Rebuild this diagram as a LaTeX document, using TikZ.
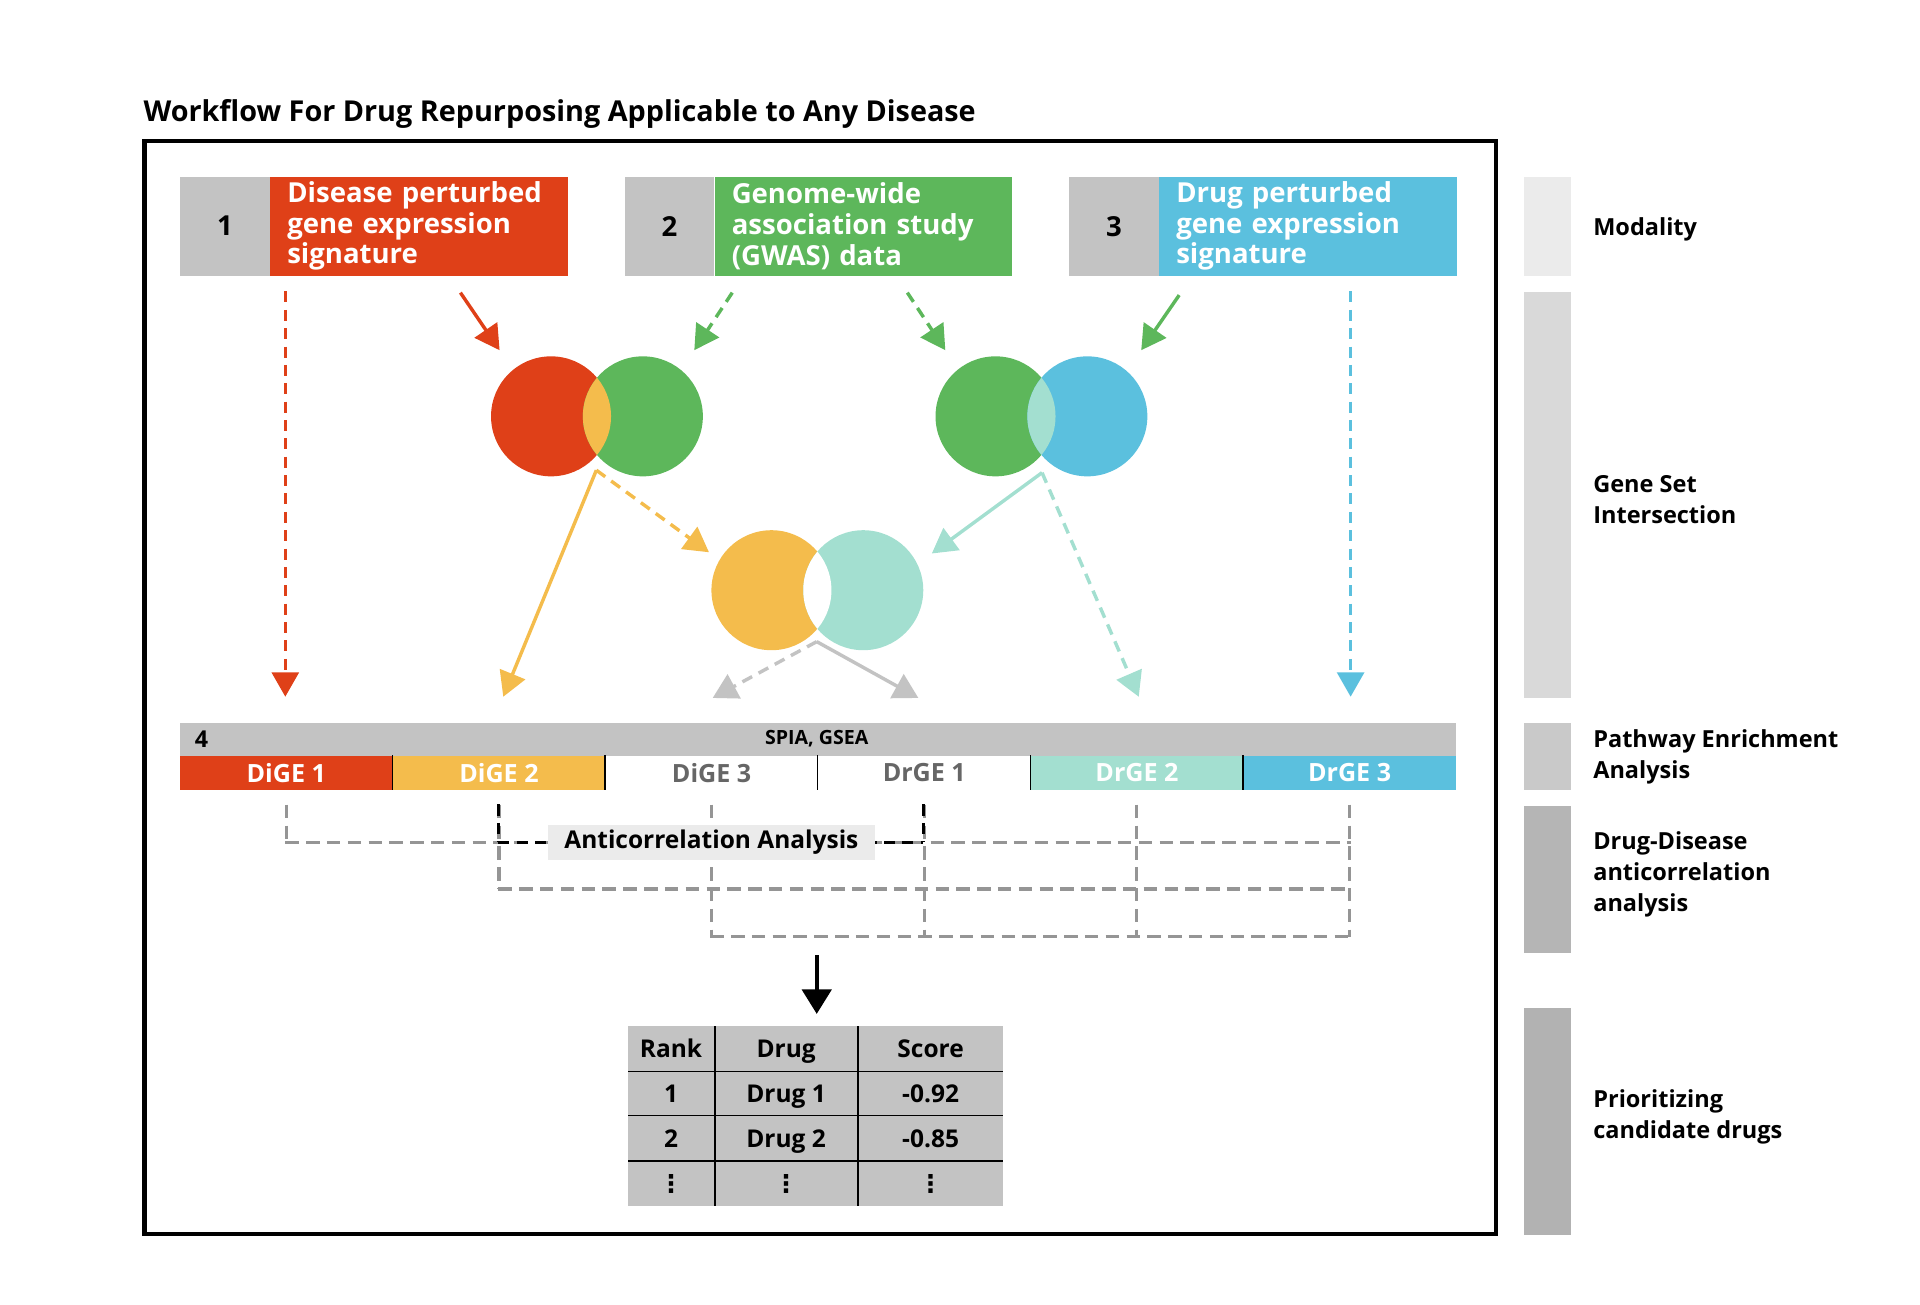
\documentclass[tikz,border=0pt]{standalone}
\usepackage{fontspec}
\setmainfont{Open Sans}
\newfontfamily\dotfont{DejaVu Sans}
\usepackage{xcolor}
\usetikzlibrary{arrows.meta,positioning,calc}

\definecolor{dired}{HTML}{DF4018}
\definecolor{gwgreen}{HTML}{5DB75B}
\definecolor{drblue}{HTML}{5BC0DE}
\definecolor{ovorange}{HTML}{F4BC4C}
\definecolor{ovteal}{HTML}{A3DFD0}
\definecolor{boxgray}{HTML}{C3C3C3}
\definecolor{labgray}{HTML}{EBEBEB}
\definecolor{gridgray}{HTML}{959595}
\definecolor{celltext}{HTML}{666666}

\tikzset{
  numbox/.style={fill=boxgray, minimum width=73pt, minimum height=81pt, inner sep=0pt,
    anchor=north west, font=\fontsize{22.5}{25}\selectfont\bfseries},
  srcbox/.style={minimum height=81pt, inner xsep=14pt, inner ysep=0pt, text width=215pt,
    align=left, text=white, anchor=north west,
    font=\fontsize{22.5}{25}\selectfont\bfseries},
  vcirc/.style={circle, minimum size=98pt, inner sep=0pt},
  flow/.style={line width=2.8pt, -{Triangle[length=20pt,width=22pt]}},
  dflow/.style={flow, dash pattern=on 9pt off 6pt},
  cell/.style={minimum width=173.67pt, minimum height=28pt, inner sep=0pt,
    font=\fontsize{20.5}{22}\selectfont\bfseries},
  gdash/.style={gridgray, line width=2.5pt, dash pattern=on 11pt off 6pt},
  bdash/.style={black, line width=2.5pt, dash pattern=on 9pt off 6pt},
  tcell/.style={anchor=base, inner sep=0pt, font=\fontsize{20}{22}\selectfont\bfseries},
  stagebar/.style={minimum width=39pt, inner sep=0pt, anchor=north west},
  stagelab/.style={anchor=west, align=left, inner sep=0pt,
    font=\fontsize{19.2}{25}\selectfont\bfseries}
}

\begin{document}
\begin{tikzpicture}[x=1pt, y=-1pt]
\useasboundingbox (0,0) rectangle (1568,1065);

% title and frame
\node[anchor=base west, inner sep=0pt, font=\fontsize{23.5}{26}\selectfont\bfseries] (title) at (117,99)
  {Workflow For Drug Repurposing Applicable to Any Disease};
\draw[line width=3.5pt] (118,115) rectangle (1222,1008);

% data sources
\node[numbox] (n1) at (147,144) {1};
\node[srcbox, fill=dired] (s1) at (n1.north east) {Disease perturbed\\gene expression\\signature};
\node[numbox] (n2) at (510,144) {2};
\node[srcbox, fill=gwgreen] (s2) at (n2.north east) {Genome-wide\\association study\\(GWAS) data};
\node[numbox] (n3) at (873,144) {3};
\node[srcbox, fill=drblue] (s3) at (n3.north east) {Drug perturbed\\gene expression\\signature};

% venn diagrams
\node[vcirc, fill=dired] (va1) at (450,340) {};
\node[vcirc, fill=gwgreen] (vb1) at (525,340) {};
\begin{scope}
  \clip (va1.center) circle (49pt);
  \fill[ovorange] (vb1.center) circle (49pt);
\end{scope}
\node[vcirc, fill=gwgreen] (va2) at (813,340) {};
\node[vcirc, fill=drblue] (vb2) at (888,340) {};
\begin{scope}
  \clip (va2.center) circle (49pt);
  \fill[ovteal] (vb2.center) circle (49pt);
\end{scope}
\node[vcirc, fill=ovorange] (va3) at (630,482) {};
\node[vcirc, fill=ovteal] (vb3) at (705,482) {};
\begin{scope}
  \clip (va3.center) circle (49pt);
  \fill[white] (vb3.center) circle (49pt);
\end{scope}

% arrow ends
\coordinate (r1) at (233,238);   \coordinate (r2) at (233,569);
\coordinate (r3) at (376,239);   \coordinate (r4) at (408,286);
\coordinate (g1) at (598,239);   \coordinate (g2) at (567,286);
\coordinate (g3) at (741,239);   \coordinate (g4) at (772,286);
\coordinate (g5) at (963,241);   \coordinate (g6) at (932,286);
\coordinate (b1) at (1103,238);  \coordinate (b2) at (1103,569);
\coordinate (o1) at (487,384);   \coordinate (o2) at (411,569);
\coordinate (o3) at (579,451);
\coordinate (t1) at (851,386);   \coordinate (t2) at (761,452);
\coordinate (t3) at (930,569);
\coordinate (k1) at (667,524);   \coordinate (k2) at (582,570);
\coordinate (k3) at (750,570);

\draw[dflow, dired] (r1) -- (r2);
\draw[flow, dired] (r3) -- (r4);
\draw[dflow, gwgreen] (g1) -- (g2);
\draw[dflow, gwgreen] (g3) -- (g4);
\draw[flow, gwgreen] (g5) -- (g6);
\draw[dflow, drblue] (b1) -- (b2);
\draw[flow, ovorange] (o1) -- (o2);
\draw[dflow, ovorange] (o1) -- (o3);
\draw[flow, ovteal] (t1) -- (t2);
\draw[dflow, ovteal] (t1) -- (t3);
\draw[dflow, boxgray] (k1) -- (k2);
\draw[flow, boxgray] (k1) -- (k3);

% pathway enrichment bar
\node[fill=boxgray, minimum width=1042pt, minimum height=27pt, inner sep=0pt, anchor=north west] (pbar) at (147,590) {};
\node[anchor=west, inner sep=0pt, font=\fontsize{19}{20}\selectfont\bfseries] (n4) at (159,604) {4};
\node[inner sep=0pt, font=\fontsize{16}{18}\selectfont\bfseries] (spia) at (667,603) {SPIA, GSEA};
\foreach \i/\lab/\col/\txt in {0/DiGE 1/dired/white, 1/DiGE 2/ovorange/white, 2/DiGE 3/white/celltext,
    3/DrGE 1/white/celltext, 4/DrGE 2/ovteal/white, 5/DrGE 3/drblue/white}
  \node[cell, fill=\col, text=\txt] (c\i) at ({147+173.67*\i+86.83},631) {\lab};
\foreach \i in {1,...,5}
  \draw[line width=1.2pt] (c\i.north west) -- (c\i.south west);

% anticorrelation grid
\foreach \i/\y in {0/688, 1/726, 2/765, 3/765, 4/765, 5/765}
  \draw[gdash] ($(c\i.south)+(0,12)$) -- ($(c\i.south)+(0,\y-645)$);
\coordinate (h0) at (233,688);  \coordinate (h1) at (407,726);  \coordinate (h2) at (580,765);
\coordinate (e0) at (1103,688); \coordinate (e1) at (1103,726); \coordinate (e2) at (1103,765);
\draw[gdash] (h0) -- (e0);
\draw[gdash] (h1) -- (e1);
\draw[gdash] (h2) -- (e2);
\coordinate (a1) at (407,657); \coordinate (a2) at (754,657);
\coordinate (m1) at (407,688); \coordinate (m2) at (754,688);
\draw[bdash] (a1) -- (m1);
\draw[bdash] (a2) -- (m2);
\draw[bdash] (m1) -- (m2);
\node[fill=labgray, minimum width=267pt, minimum height=29pt, inner sep=0pt,
  font=\fontsize{20}{22}\selectfont\bfseries] (anti) at (581,688) {Anticorrelation Analysis};

% ranking table
\coordinate (d1) at (667,780); \coordinate (d2) at (667,828);
\draw[line width=3pt, -{Triangle[length=20pt,width=24pt]}] (d1) -- (d2);
\fill[boxgray] (513,838) rectangle (819,985);
\foreach \y in {875,911,948}
  \draw[line width=1.5pt] (513,\y) -- (819,\y);
\foreach \x in {584,701}
  \draw[line width=1.5pt] (\x,838) -- (\x,985);
\foreach \r/\y/\a/\b/\c in {0/864/Rank/Drug/Score, 1/900.5/1/Drug 1/-0.92, 2/937/2/Drug 2/-0.85,
    3/974/{\dotfont ⋮}/{\dotfont ⋮}/{\dotfont ⋮}} {
  \node[tcell] (ra\r) at (548,\y) {\a};
  \node[tcell] (rb\r) at (642,\y) {\b};
  \node[tcell] (rc\r) at (760,\y) {\c};
}

% stages
\node[stagebar, fill=labgray, minimum height=81pt] (st1) at (1244,144) {};
\node[stagebar, fill=black!15, minimum height=332pt] (st2) at (1244,238) {};
\node[stagebar, fill=black!21, minimum height=55pt] (st3) at (1244,590) {};
\node[stagebar, fill=black!29, minimum height=120pt] (st4) at (1244,658) {};
\node[stagebar, fill=black!30, minimum height=185pt] (st5) at (1244,823) {};
\node[stagelab] (sl1) at (1301,187) {Modality};
\node[stagelab] (sl2) at (1301,408) {Gene Set\\Intersection};
\node[stagelab] (sl3) at (1301,618) {Pathway Enrichment\\Analysis};
\node[stagelab] (sl4) at (1301,714) {Drug-Disease\\anticorrelation\\analysis};
\node[stagelab] (sl5) at (1301,912) {Prioritizing\\candidate drugs};
\end{tikzpicture}
\end{document}
